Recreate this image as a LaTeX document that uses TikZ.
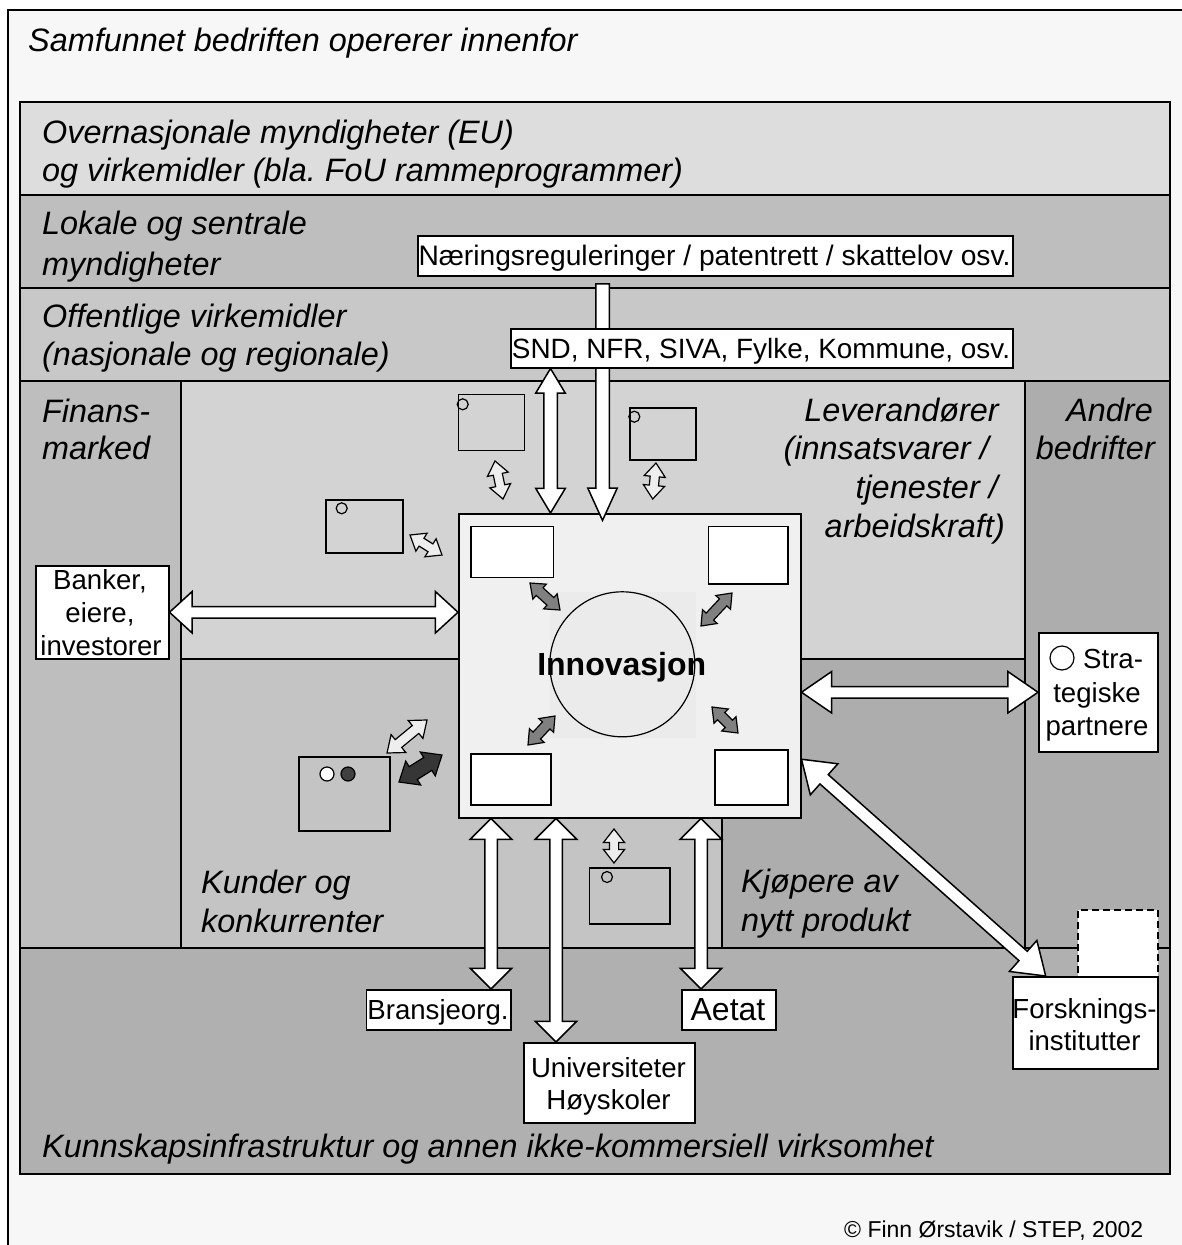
\documentclass[tikz,border=0pt]{standalone}
\usepackage{fontspec}
\setmainfont{Liberation Sans}
\usetikzlibrary{shapes.arrows,calc}
\frenchspacing
\definecolor{bgc}{HTML}{F7F7F7}
\definecolor{bandA}{HTML}{DDDDDD}
\definecolor{bandB}{HTML}{BEBEBE}
\definecolor{bandC}{HTML}{C8C8C8}
\definecolor{finc}{HTML}{BEBEBE}
\definecolor{levc}{HTML}{D3D3D3}
\definecolor{kunc}{HTML}{C4C4C4}
\definecolor{kjoc}{HTML}{ADADAD}
\definecolor{andc}{HTML}{ADADAD}
\definecolor{botc}{HTML}{B0B0B0}
\definecolor{corec}{HTML}{F0F0F0}
\definecolor{circc}{HTML}{EBEBEB}
\definecolor{grayarr}{HTML}{808080}
\definecolor{darkarr}{HTML}{363636}
\definecolor{lightarr}{HTML}{EEEEEE}
\definecolor{dotdark}{HTML}{404040}

\tikzset{
  region/.style={draw=black, line width=1.5pt},
  wbox/.style={rectangle, draw=black, fill=white, line width=1.5pt, inner sep=0pt, anchor=north west},
  gbox/.style={rectangle, draw=black, line width=1.5pt, inner sep=0pt, anchor=north west},
  dot/.style={circle, draw=black, line width=1.2pt, inner sep=0pt, minimum size=11pt},
  zone/.style={inner sep=0pt, font=\fontsize{32.4}{38}\selectfont\itshape},
  btext/.style={inner sep=0pt, anchor=base, font=\fontsize{27.6}{33}\selectfont},
  bigarr/.style={fill=white, line width=1.5pt},
  smallarr/.style={fill=lightarr, line width=1.2pt},
  midarr/.style={fill=grayarr, line width=1.2pt},
  darkstyle/.style={fill=darkarr, line width=1.2pt},
}
% #1 name, #2 from, #3 to, #4 half shaft, #5 head extend, #6 tip angle, #7 style
\newcommand\dblarr[7]{%
  \path let \p1=($(#3)-(#2)$), \n1={veclen(\x1,\y1)}, \n2={atan2(\y1,\x1)} in
    node[double arrow, draw=black, #7, inner xsep=0pt, inner ysep=#4, minimum width=0pt,
      minimum height=\n1, double arrow head extend=#5, double arrow tip angle=#6,
      rotate=\n2, anchor=center] (#1) at ($(#2)!0.5!(#3)$) {};}
\newcommand\onearr[7]{%
  \path let \p1=($(#3)-(#2)$), \n1={veclen(\x1,\y1)}, \n2={atan2(\y1,\x1)} in
    node[single arrow, draw=black, #7, inner xsep=0pt, inner ysep=#4, minimum width=0pt,
      minimum height=\n1, single arrow head extend=#5, single arrow tip angle=#6,
      rotate=\n2, anchor=center] (#1) at ($(#2)!0.5!(#3)$) {};}

\begin{document}
\begin{tikzpicture}[x=1pt,y=-1pt]
\useasboundingbox (0,0) rectangle (1182,1245);
\clip (0,0) rectangle (1182,1245);
\fill[white] (0,0) rectangle (1182,1245);
\filldraw[fill=bgc, draw=black, line width=1.5pt] (8,10) rectangle (1200,1265);
\node[zone, anchor=base west] (title) at (28,51) {Samfunnet bedriften opererer innenfor};

% regions
\filldraw[region, fill=bandA] (20,102) rectangle (1170,195);
\filldraw[region, fill=bandB] (20,195) rectangle (1170,288);
\filldraw[region, fill=bandC] (20,288) rectangle (1170,381);
\filldraw[region, fill=finc] (20,381) rectangle (181,948);
\filldraw[region, fill=levc] (181,381) rectangle (1025,659);
\filldraw[region, fill=kunc] (181,659) rectangle (722,948);
\filldraw[region, fill=kjoc] (722,659) rectangle (1025,948);
\filldraw[region, fill=andc] (1025,381) rectangle (1170,948);
\filldraw[region, fill=botc] (20,948) rectangle (1170,1174);

% region labels
\node[zone, anchor=base west] (z1a) at (42,143) {Overnasjonale myndigheter (EU)};
\node[zone, anchor=base west] (z1b) at (42,181) {og virkemidler (bla. FoU rammeprogrammer)};
\node[zone, anchor=base west] (z2a) at (42,234) {Lokale og sentrale};
\node[zone, anchor=base west] (z2b) at (42,275) {myndigheter};
\node[zone, anchor=base west] (z3a) at (42,327) {Offentlige virkemidler};
\node[zone, anchor=base west] (z3b) at (42,365) {(nasjonale og regionale)};
\node[zone, anchor=base west] (zf1) at (42,422) {Finans-};
\node[zone, anchor=base west] (zf2) at (42,459) {marked};
\node[zone, anchor=base east] (zl1) at (999,421) {Leverandører};
\node[zone, anchor=base east] (zl2) at (989,459) {(innsatsvarer /};
\node[zone, anchor=base east] (zl3) at (998,498) {tjenester /};
\node[zone, anchor=base east] (zl4) at (1005,537) {arbeidskraft)};
\node[zone, anchor=base east] (za1) at (1153,421) {Andre};
\node[zone, anchor=base east] (za2) at (1155,459) {bedrifter};
\node[zone, anchor=base west] (zk1) at (201,893) {Kunder og};
\node[zone, anchor=base west] (zk2) at (201,932) {konkurrenter};
\node[zone, anchor=base west] (zj1) at (741,892) {Kjøpere av};
\node[zone, anchor=base west] (zj2) at (741,931) {nytt produkt};
\node[zone, anchor=base west] (zb) at (42,1157) {Kunnskapsinfrastruktur og annen ikke-kommersiell virksomhet};
\node[inner sep=0pt, anchor=base west, font=\fontsize{23}{28}\selectfont] (copy) at (844,1237) {© Finn Ørstavik / STEP, 2002};

% core
\node[rectangle, draw=black, fill=corec, line width=1.5pt, inner sep=0pt, minimum width=342pt, minimum height=304pt, anchor=north west] (core) at (458,513) {};
\fill[circc] (550,592) rectangle (696,738);
\node[circle, draw=black, fill=circc, line width=1.2pt, minimum size=145pt, inner sep=0pt] (innov) at (622.3,664.3) {};
\node[inner sep=0pt, anchor=base, font=\fontsize{32}{38}\selectfont\bfseries] (innovtxt) at (621.7,675) {Innovasjon};
\node[wbox, minimum width=82.7pt, minimum height=51pt] (c1) at (470,525.7) {};
\node[wbox, minimum width=79.6pt, minimum height=57.6pt] (c2) at (707.7,525.7) {};
\node[wbox, minimum width=80pt, minimum height=51pt] (c3) at (470,753) {};
\node[wbox, minimum width=73.3pt, minimum height=55pt] (c4) at (714,749) {};
\coordinate (g1a) at (530,583); \coordinate (g1b) at (560,610);
\coordinate (g2a) at (732,593); \coordinate (g2b) at (701,626);
\coordinate (g3a) at (555,716); \coordinate (g3b) at (528,745);
\coordinate (g4a) at (712,707); \coordinate (g4b) at (738,733);
\dblarr{ga1}{g1a}{g1b}{4.5pt}{5pt}{76}{midarr}
\dblarr{ga2}{g2a}{g2b}{4.5pt}{5pt}{76}{midarr}
\dblarr{ga3}{g3a}{g3b}{4.5pt}{5pt}{76}{midarr}
\dblarr{ga4}{g4a}{g4b}{4.5pt}{5pt}{76}{midarr}

% small gray boxes
\node[gbox, minimum width=66pt, minimum height=56pt] (sb1) at (457.5,393.5) {};
\node[dot] (sd1) at (462.7,404.3) {};
\node[gbox, minimum width=66pt, minimum height=52pt] (sb2) at (629,407) {};
\node[dot] (sd2) at (634.3,416.7) {};
\node[gbox, minimum width=77pt, minimum height=53pt] (sb3) at (325,499) {};
\node[dot] (sd3) at (341.7,508.3) {};
\node[gbox, minimum width=80.5pt, minimum height=56pt] (sb4) at (588.5,867) {};
\node[dot] (sd4) at (607,877) {};
\node[gbox, minimum width=91pt, minimum height=74pt] (sb5) at (298,756) {};
\node[dot, minimum size=14pt, fill=white] (sd5) at (327,774) {};
\node[dot, minimum size=14pt, fill=dotdark] (sd6) at (348,774) {};
\coordinate (s1a) at (495,461); \coordinate (s1b) at (503,499);
\coordinate (s2a) at (656,463); \coordinate (s2b) at (652.7,499);
\coordinate (s3a) at (410,535); \coordinate (s3b) at (442,555);
\coordinate (s4a) at (614,829); \coordinate (s4b) at (614,863);
\coordinate (s5a) at (387,753); \coordinate (s5b) at (427,720);
\coordinate (s6a) at (399,782); \coordinate (s6b) at (442,755);
\dblarr{sa1}{s1a}{s1b}{4pt}{6pt}{76}{smallarr}
\dblarr{sa2}{s2a}{s2b}{4pt}{6pt}{76}{smallarr}
\dblarr{sa3}{s3a}{s3b}{4pt}{6pt}{76}{smallarr}
\dblarr{sa4}{s4a}{s4b}{4pt}{6pt}{76}{smallarr}
\dblarr{sa5}{s5a}{s5b}{4.5pt}{6.5pt}{76}{smallarr}
\dblarr{sa6}{s6a}{s6b}{7pt}{6.5pt}{80}{darkstyle}

% top boxes and arrows
\node[wbox, minimum width=595pt, minimum height=40pt] (naer) at (417,235) {};
\node[btext, font=\fontsize{28.2}{33}\selectfont] (tnaer) at (714.5,265) {Næringsreguleringer / patentrett / skattelov osv.};
\coordinate (xn) at (602.5,0);
\onearr{arrnaer}{naer.south -| xn}{core.north -| xn}{6pt}{8pt}{49}{bigarr}
\node[wbox, minimum width=502pt, minimum height=39pt] (snd) at (510,328) {};
\node[btext, font=\fontsize{27.9}{33}\selectfont] (tsnd) at (761,358) {SND, NFR, SIVA, Fylke, Kommune, osv.};
\coordinate (xs) at (550.5,0);
\dblarr{arrsnd}{snd.south -| xs}{core.north -| xs}{6pt}{8pt}{62}{bigarr}

% Banker
\node[wbox, minimum width=133pt, minimum height=93pt] (bank) at (35,565) {};
\node[btext] (tb1) at (100,589) {Banker,};
\node[btext] (tb2) at (100,622) {eiere,};
\node[btext] (tb3) at (101,655) {investorer};
\dblarr{arrbank}{bank.east}{core.west |- bank.east}{5pt}{15pt}{85}{bigarr}

% Strategiske
\node[wbox, minimum width=119pt, minimum height=119pt] (strat) at (1038,632) {};
\node[dot, minimum size=24pt] (sc) at (1062,658) {};
\node[btext, anchor=base west] (ts1) at (1083,668) {Stra-};
\node[btext] (ts2) at (1097,702) {tegiske};
\node[btext] (ts3) at (1097,735) {partnere};
\dblarr{arrstrat}{core.east |- strat.west}{strat.west}{5pt}{15pt}{69}{bigarr}

% bottom boxes
\node[wbox, minimum width=144.5pt, minimum height=40pt] (bransje) at (365.5,989) {};
\node[btext] (tbr) at (438,1019) {Bransjeorg.};
\coordinate (xb) at (491,0);
\dblarr{arrbr}{core.south -| xb}{bransje.north -| xb}{5.5pt}{14.5pt}{90}{bigarr}
\node[wbox, minimum width=171pt, minimum height=80pt] (univ) at (523,1042) {};
\node[btext] (tu1) at (608.5,1077) {Universiteter};
\node[btext] (tu2) at (608.5,1109) {Høyskoler};
\coordinate (xu) at (556,0);
\dblarr{arrun}{core.south -| xu}{univ.north -| xu}{5.5pt}{14.5pt}{90}{bigarr}
\node[wbox, minimum width=94pt, minimum height=40pt] (aetat) at (681,989) {};
\node[btext, font=\fontsize{32}{38}\selectfont] (tae) at (728,1020) {Aetat};
\coordinate (xa) at (701,0);
\dblarr{arrae}{core.south -| xa}{aetat.north -| xa}{5.5pt}{14.5pt}{90}{bigarr}

% Forskningsinstitutter
\node[rectangle, draw=black, dash pattern=on 7pt off 4pt, fill=white, line width=1.5pt, minimum width=80pt, minimum height=81pt, anchor=north west, inner sep=0pt] (dashb) at (1077,909) {};
\node[wbox, minimum width=145pt, minimum height=92pt] (forsk) at (1012,976) {};
\node[btext] (tf1) at (1084.5,1018) {Forsknings-};
\node[btext] (tf2) at (1084.5,1050) {institutter};
\coordinate (dA) at ($(core.north east)!0.806!(core.south east)$);
\coordinate (dB) at ($(forsk.north west)!0.23!(forsk.north east)$);
\dblarr{arrfo}{dA}{dB}{5.5pt}{14.5pt}{69}{bigarr}
\end{tikzpicture}
\end{document}
